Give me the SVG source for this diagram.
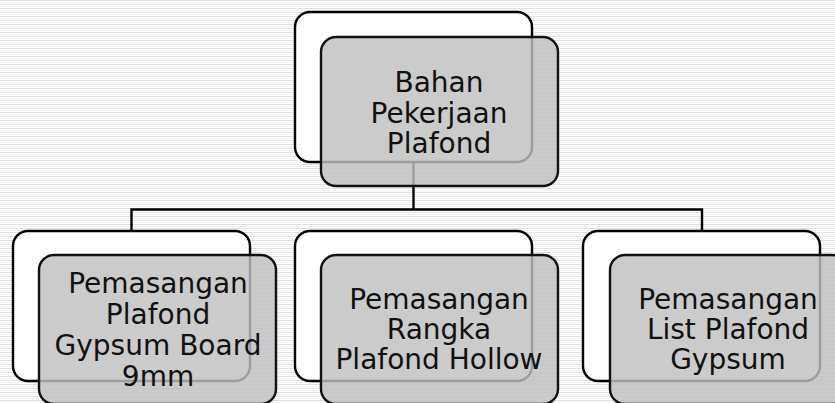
<svg xmlns="http://www.w3.org/2000/svg" width="835" height="403" viewBox="0 0 835 403">
<defs>
<pattern id="stripes" x="0" y="0" width="8" height="4" patternUnits="userSpaceOnUse">
<rect width="8" height="4" fill="#ffffff"/>
<rect y="0" width="8" height="1" fill="#e0e0e0"/>
<rect y="2" width="8" height="1" fill="#f0f0f0"/>
</pattern>
</defs>
<style>
.back{fill:#ffffff;stroke:#000000;stroke-width:2.4}
.front{fill:#c0c0c0;fill-opacity:0.82;stroke:#111111;stroke-width:2.4}
.conn{fill:none;stroke:#000000;stroke-width:2.4}
.lbl{font-family:"DejaVu Sans","Verdana",sans-serif;font-size:28px;fill:#111111;text-anchor:middle}
</style>
<rect width="835" height="403" fill="url(#stripes)"/>
<g id="connectors">
<path class="conn" d="M413.5 162 V209.5 M131.5 231 V209.5 H702 V231"/>
</g>
<g id="node-top">
<rect class="back" x="295" y="12" width="237" height="150" rx="15"/>
<rect class="front" x="321" y="37" width="237" height="149" rx="15"/>
<text class="lbl" x="439" y="92">Bahan</text>
<text class="lbl" x="439" y="123">Pekerjaan</text>
<text class="lbl" x="439" y="153">Plafond</text>
</g>
<g id="node-left">
<rect class="back" x="13" y="231" width="237" height="150" rx="15"/>
<rect class="front" x="39" y="255" width="237" height="149" rx="15"/>
<text class="lbl" x="158" y="293">Pemasangan</text>
<text class="lbl" x="158" y="324">Plafond</text>
<text class="lbl" x="158" y="355">Gypsum Board</text>
<text class="lbl" x="158" y="386">9mm</text>
</g>
<g id="node-middle">
<rect class="back" x="295" y="231" width="237" height="150" rx="15"/>
<rect class="front" x="321" y="255" width="237" height="149" rx="15"/>
<text class="lbl" x="439" y="309">Pemasangan</text>
<text class="lbl" x="439" y="339">Rangka</text>
<text class="lbl" x="439" y="369">Plafond Hollow</text>
</g>
<g id="node-right">
<rect class="back" x="583" y="231" width="237" height="150" rx="15"/>
<rect class="front" x="610" y="255" width="237" height="149" rx="15"/>
<text class="lbl" x="728" y="309">Pemasangan</text>
<text class="lbl" x="728" y="339">List Plafond</text>
<text class="lbl" x="728" y="369">Gypsum</text>
</g>
</svg>
